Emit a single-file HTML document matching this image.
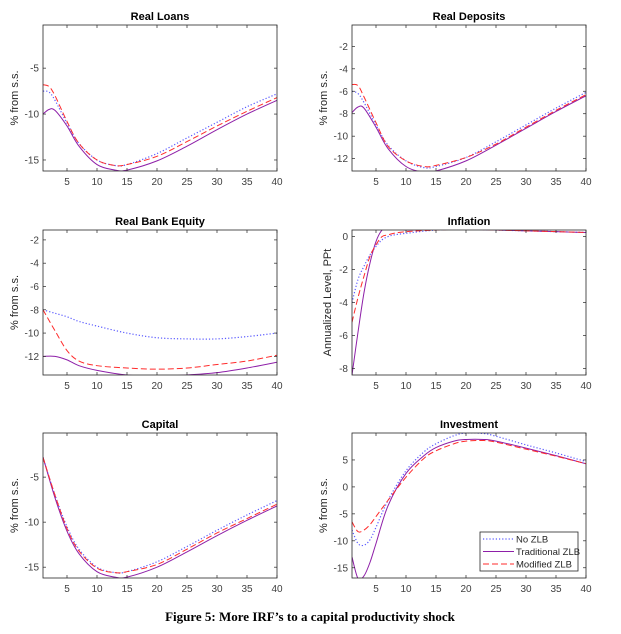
<!DOCTYPE html>
<html><head><meta charset="utf-8"><style>
html,body{margin:0;padding:0;background:#fff;width:621px;height:634px;overflow:hidden}
svg{display:block}
text{font-family:"Liberation Sans",Arial,sans-serif}
.tk{font-size:10px;fill:#404040}
.ttl{font-size:11px;font-weight:bold;fill:#000}
.yl{font-size:11px;fill:#262626}
</style></head><body>
<svg id="fig" width="621" height="634"></svg>
<script>
const periodsA=[1,2,3,5,7,10,13,15,20,25,30,35,40];
const loansNo=[-7.5,-7.6,-8.5,-11,-13.2,-15,-15.6,-15.5,-14.3,-12.6,-10.9,-9.2,-7.8];
const loansTrad=[-10,-9.5,-9.6,-11.3,-13.5,-15.5,-16.1,-16.1,-15.1,-13.5,-11.7,-10,-8.5];
const loansMod=[-6.8,-7,-8,-10.8,-13.2,-15,-15.6,-15.5,-14.6,-13,-11.3,-9.7,-8.2];
const depNo=[-6,-6.2,-7,-9,-10.8,-12.2,-12.8,-12.7,-11.9,-10.5,-9,-7.5,-6.1];
const depTrad=[-7.9,-7.4,-7.5,-9.2,-11.1,-12.7,-13.2,-13.1,-12.2,-10.8,-9.3,-7.8,-6.4];
const depMod=[-5.4,-5.5,-6.5,-8.8,-10.9,-12.2,-12.7,-12.6,-11.9,-10.7,-9.2,-7.7,-6.3];
const periodsE=[1,3,5,7,10,15,20,25,30,35,40];
const eqNo=[-8,-8.3,-8.6,-9,-9.4,-10,-10.4,-10.5,-10.5,-10.3,-10];
const eqTrad=[-12,-12,-12.3,-12.8,-13.2,-13.6,-13.7,-13.6,-13.4,-13,-12.5];
const eqMod=[-8,-9.8,-11.5,-12.4,-12.8,-13,-13.1,-13,-12.7,-12.4,-11.9];
const periodsI=[1,2,3,4,5,6,7,8,10,15,20,25,30,35,40];
const inflNo=[-4,-2.6,-1.8,-1.1,-0.6,-0.2,0,0.1,0.2,0.4,0.45,0.4,0.35,0.3,0.25];
const inflTrad=[-8.4,-5.8,-3.4,-1.6,-0.3,0.4,0.6,0.6,0.4,0.45,0.45,0.4,0.35,0.3,0.25];
const inflMod=[-5.2,-3.7,-2.4,-1.2,-0.5,0,0.1,0.2,0.3,0.4,0.45,0.4,0.35,0.3,0.25];
const periodsK=[1,3,5,7,10,13,15,20,25,30,35,40];
const capNo=[-2.8,-7,-10.5,-13,-15,-15.6,-15.5,-14.4,-12.7,-10.9,-9.2,-7.6];
const capTrad=[-2.8,-7.3,-11,-13.5,-15.5,-16.1,-16.1,-15,-13.3,-11.5,-9.8,-8.2];
const capMod=[-2.8,-7,-10.7,-13.2,-15.1,-15.6,-15.5,-14.7,-13,-11.2,-9.6,-8];
const periodsV=[1,2,3,4,5,7,10,13,15,18,20,23,25,30,35,40];
const invNo=[-8,-10.5,-10.8,-9.8,-7.5,-2.5,3,6.5,8,9.5,10,9.9,9.4,7.8,6.3,4.7];
const invTrad=[-13,-17,-16.5,-14,-10.5,-3.5,2.5,5.8,7.3,8.5,8.8,8.8,8.5,7.2,5.8,4.3];
const invMod=[-6.5,-8.3,-8,-7,-5.5,-2.5,1.8,5.3,6.7,8,8.5,8.6,8.3,7,5.7,4.3];
const xTicks=[5,10,15,20,25,30,35,40];
const legendLabels=["No ZLB","Traditional ZLB","Modified ZLB"];

const NS="http://www.w3.org/2000/svg";
const svg=document.getElementById('fig');
function mk(tag,attrs,parent){const e=document.createElementNS(NS,tag);for(const k in attrs)e.setAttribute(k,attrs[k]);(parent||svg).appendChild(e);return e;}
const styles=[{stroke:"#5a5aff",dash:"1.2,2",w:1.2},{stroke:"#8e1fa8",dash:"",w:1},{stroke:"#ff2b2b",dash:"6,3",w:1}];
function pathD(pts){let d="M"+pts[0][0]+","+pts[0][1];for(let i=0;i<pts.length-1;i++){const p0=pts[Math.max(0,i-1)],p1=pts[i],p2=pts[i+1],p3=pts[Math.min(pts.length-1,i+2)];const c1x=p1[0]+(p2[0]-p0[0])/6,c1y=p1[1]+(p2[1]-p0[1])/6,c2x=p2[0]-(p3[0]-p1[0])/6,c2y=p2[1]-(p3[1]-p1[1])/6;d+=` C${c1x},${c1y} ${c2x},${c2y} ${p2[0]},${p2[1]}`;}return d;}
function panel(o){
  const g=mk('g',{});
  
  
  const X=v=>o.x0+(v-1)/(39)*(o.x1-o.x0);
  const Y=v=>o.y1-(v-o.ymin)/(o.ymax-o.ymin)*(o.y1-o.y0);
  const cp='cp'+o.name;
  const defs=mk('defs',{},g);const c=mk('clipPath',{id:cp},defs);mk('rect',{x:o.x0,y:o.y0,width:o.x1-o.x0,height:o.y1-o.y0},c);
  const series=[o.s[0],o.s[1],o.s[2]];
  const sg=mk('g',{'clip-path':`url(#${cp})`},g);
  series.forEach((vals,i)=>{const st=styles[i];const pts=o.px.map((p,j)=>[X(p),Y(vals[j])]);
    const p=mk('path',{d:pathD(pts),fill:'none',stroke:st.stroke,'stroke-width':st.w,'stroke-dasharray':st.dash},sg);
    
    });
  const box=mk('rect',{x:o.x0,y:o.y0,width:o.x1-o.x0,height:o.y1-o.y0,fill:'none',stroke:'#262626','stroke-width':0.8},g);
  
  
  xTicks.forEach(t=>{const x=X(t);mk('line',{x1:x,x2:x,y1:o.y1,y2:o.y1-3,stroke:'#262626','stroke-width':0.7},g);mk('line',{x1:x,x2:x,y1:o.y0,y2:o.y0+3,stroke:'#262626','stroke-width':0.7},g);
    const tx=mk('text',{x:x,y:o.y1+14,'text-anchor':'middle',class:'tk'},g);tx.textContent=t;
    
    });
  o.yt.forEach(t=>{const y=Y(t);mk('line',{x1:o.x0,x2:o.x0+3,y1:y,y2:y,stroke:'#262626','stroke-width':0.7},g);mk('line',{x1:o.x1,x2:o.x1-3,y1:y,y2:y,stroke:'#262626','stroke-width':0.7},g);
    const tx=mk('text',{x:o.x0-4,y:y+3.5,'text-anchor':'end',class:'tk'},g);tx.textContent=t;
    
    });
  const tt=mk('text',{x:(o.x0+o.x1)/2,y:o.y0-5,'text-anchor':'middle',class:'ttl'},g);tt.textContent=o.title;
  
  
  const cy=(o.y0+o.y1)/2;const yl=mk('text',{x:o.ylx,y:cy,'text-anchor':'middle',class:'yl',transform:`rotate(-90 ${o.ylx} ${cy})`},g);yl.textContent=o.ylabel;
  
  
}
const L=[43,277],R=[352,586];
const r1=[25,171],r2=[230,375],r3=[433,578];
panel({name:'real-loans',title:'Real Loans',x0:L[0],x1:L[1],y0:r1[0],y1:r1[1],ymin:-16.2,ymax:-0.3,yt:[-15,-10,-5],px:periodsA,s:[loansNo,loansTrad,loansMod],ylabel:'% from s.s.',ylx:18});
panel({name:'real-deposits',title:'Real Deposits',x0:R[0],x1:R[1],y0:r1[0],y1:r1[1],ymin:-13.1,ymax:-0.1,yt:[-12,-10,-8,-6,-4,-2],px:periodsA,s:[depNo,depTrad,depMod],ylabel:'% from s.s.',ylx:327});
panel({name:'real-bank-equity',title:'Real Bank Equity',x0:L[0],x1:L[1],y0:r2[0],y1:r2[1],ymin:-13.6,ymax:-1.15,yt:[-12,-10,-8,-6,-4,-2],px:periodsE,s:[eqNo,eqTrad,eqMod],ylabel:'% from s.s.',ylx:18});
panel({name:'inflation',title:'Inflation',x0:R[0],x1:R[1],y0:r2[0],y1:r2[1],ymin:-8.4,ymax:0.4,yt:[-8,-6,-4,-2,0],px:periodsI,s:[inflNo,inflTrad,inflMod],ylabel:'Annualized Level, PPt',ylx:331});
panel({name:'capital',title:'Capital',x0:L[0],x1:L[1],y0:r3[0],y1:r3[1],ymin:-16.2,ymax:-0.1,yt:[-15,-10,-5],px:periodsK,s:[capNo,capTrad,capMod],ylabel:'% from s.s.',ylx:18});
panel({name:'investment',title:'Investment',x0:R[0],x1:R[1],y0:r3[0],y1:r3[1],ymin:-16.9,ymax:10,yt:[-15,-10,-5,0,5],px:periodsV,s:[invNo,invTrad,invMod],ylabel:'% from s.s.',ylx:327});
// legend
const lg=mk('g',{});


mk('rect',{x:480,y:532,width:98,height:39,fill:'#fff',stroke:'#262626','stroke-width':0.8},lg);
legendLabels.forEach((lab,i)=>{const y=539+i*12.5;const st=styles[i];
  const e=mk('g',{},lg);
  
  
  mk('line',{x1:483,x2:514,y1:y,y2:y,stroke:st.stroke,'stroke-width':st.w,'stroke-dasharray':st.dash},e);
  const t=mk('text',{x:516,y:y+3.5,class:'tk',style:'font-size:9.5px;fill:#262626'},e);t.textContent=lab;});
const cap=mk('text',{x:310,y:621,'text-anchor':'middle',style:'font-family:"Liberation Serif",serif;font-size:13px;font-weight:bold'});
cap.textContent="Figure 5: More IRF’s to a capital productivity shock";


</script>
</body></html>
